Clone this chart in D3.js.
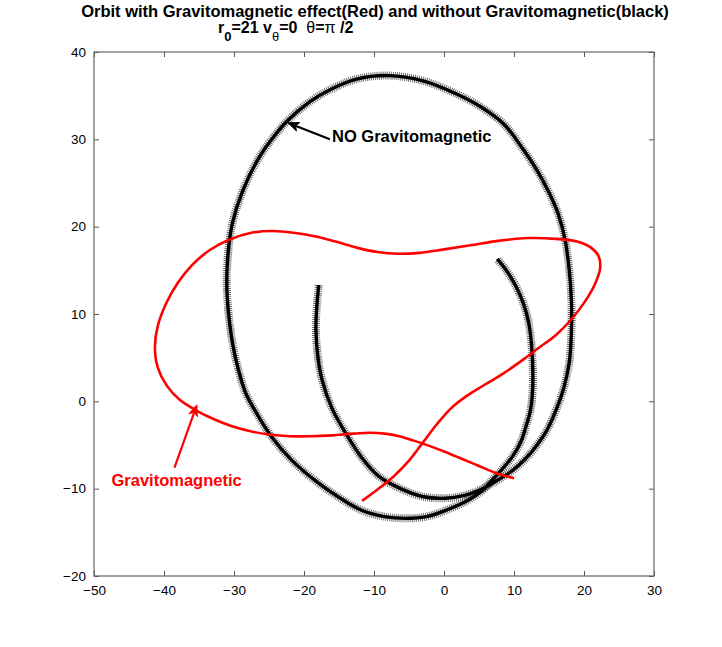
<!DOCTYPE html>
<html>
<head>
<meta charset="utf-8">
<script src="https://cdn.jsdelivr.net/npm/d3@7"></script>
<style>
  html, body { margin: 0; padding: 0; background: #fff; }
  svg { display: block; font-family: "Liberation Sans", Arial, Helvetica, sans-serif; }
</style>
</head>
<body>
<svg id="chart" width="722" height="647"></svg>
<script>
// ---- data ----
const titleLine1 = "Orbit with Gravitomagnetic effect(Red) and without Gravitomagnetic(black)";
const xTicks = [-50, -40, -30, -20, -10, 0, 10, 20, 30];
const yTicks = [-20, -10, 0, 10, 20, 30, 40];

// orbit without gravitomagnetic effect (black, '+' markers)
const blackX = [-17.9,-18.2,-18.3,-18.0,-17.4,-16.0,-14.0,-11.8,-9.3,-6.2,-3.1,0.2,2.8,5.0,7.5,9.8,11.6,13.1,14.7,16.0,17.1,17.9,18.2,18.2,17.9,17.3,16.3,15.0,13.4,11.0,8.6,5.3,1.8,-3.0,-7.9,-12.5,-16.0,-19.2,-22.4,-24.8,-26.8,-28.8,-30.2,-30.7,-31.0,-31.0,-30.7,-30.2,-29.4,-28.3,-26.6,-24.5,-21.8,-18.2,-14.8,-11.7,-8.5,-5.5,-2.5,0.2,3.5,5.5,6.9,8.5,9.8,11.0,11.7,12.3,12.6,12.7,12.5,12.1,11.3,10.2,8.9,7.6];
const blackY = [13.3,10.5,8.2,5.0,2.4,-0.8,-3.7,-6.4,-8.6,-10.0,-10.9,-11.1,-10.8,-10.2,-9.1,-7.9,-6.6,-5.2,-3.3,-1.0,1.5,4.5,8.0,11.5,15.0,18.5,21.5,23.9,26.3,29.2,31.7,33.7,35.2,36.7,37.3,36.9,35.8,34.3,32.1,29.8,27.4,24.0,20.5,18.1,15.0,12.4,9.5,6.6,3.7,0.9,-1.6,-4.2,-6.7,-9.2,-11.1,-12.5,-13.2,-13.4,-13.2,-12.5,-11.3,-10.2,-9.0,-7.6,-6.3,-4.6,-2.9,-1.2,0.5,3.0,6.5,9.0,11.3,13.3,15.0,16.3];

// orbit with gravitomagnetic effect (red)
const redX = [-11.7,-9.5,-7.2,-5.0,-3.0,-1.0,1.0,3.2,5.8,8.5,11.0,13.5,16.0,18.2,20.2,21.6,22.3,22.1,21.0,19.0,16.0,12.0,8.0,4.0,0.0,-3.5,-6.5,-9.5,-12.5,-15.5,-18.5,-21.5,-24.5,-27.5,-30.7,-33.5,-36.0,-38.0,-39.7,-40.9,-41.3,-40.9,-39.6,-37.8,-35.5,-33.0,-30.5,-27.8,-25.0,-22.0,-19.0,-16.0,-13.0,-10.5,-8.5,-6.4,-4.3,-2.1,0.2,2.6,5.0,7.4,10.0];
const redY = [-11.4,-10.1,-8.6,-6.8,-4.7,-2.6,-0.8,0.6,1.9,3.2,4.6,6.1,7.6,9.4,11.5,13.5,15.2,16.6,17.6,18.3,18.6,18.7,18.4,17.9,17.4,17.0,16.9,17.1,17.6,18.3,18.9,19.3,19.5,19.3,18.5,17.3,15.6,13.6,11.2,8.6,6.2,3.9,1.8,0.2,-1.0,-2.0,-2.8,-3.4,-3.8,-4.0,-4.0,-3.9,-3.7,-3.6,-3.7,-4.0,-4.5,-5.1,-5.8,-6.6,-7.4,-8.2,-8.8];

// annotations: [label, textX, textY, tailX, tailY, tipX, tipY] in data units
const annBlack = ["NO Gravitomagnetic", -16.0, 30.3, -16.3, 30.0, -22.3, 31.9];
const annRed = ["Gravitomagnetic", -47.5, -9.0, -38.5, -7.6, -35.3, -0.4];

// ---- drawing ----
const svg = d3.select("#chart");
svg.append("rect").attr("width", 722).attr("height", 647).attr("fill", "#fff");

const L = 94, R = 654, T = 52, B = 576;
const x = d3.scaleLinear().domain([-50, 30]).range([L, R]);
const y = d3.scaleLinear().domain([-20, 40]).range([B, T]);

// axes box with inward ticks on all sides
const tickLen = 5;
const axisColor = "#555";
function styleAxis(g) {
  g.select(".domain").remove();
  g.selectAll(".tick line").attr("stroke", axisColor).attr("stroke-width", 1);
  g.selectAll(".tick text").attr("fill", "#000").attr("font-size", "13.5px")
    .attr("font-family", "\"Liberation Sans\", Arial, sans-serif");
}
const fmt = d => d < 0 ? "\u2212" + Math.abs(d) : d;
const gxB = svg.append("g").attr("transform", `translate(0,${B})`)
  .call(d3.axisBottom(x).tickValues(xTicks).tickSizeInner(-tickLen).tickSizeOuter(0).tickPadding(9).tickFormat(fmt));
styleAxis(gxB);
const gxT = svg.append("g").attr("transform", `translate(0,${T})`)
  .call(d3.axisTop(x).tickValues(xTicks).tickSizeInner(-tickLen).tickSizeOuter(0).tickFormat(""));
styleAxis(gxT);
const gyL = svg.append("g").attr("transform", `translate(${L},0)`)
  .call(d3.axisLeft(y).tickValues(yTicks).tickSizeInner(-tickLen).tickSizeOuter(0).tickPadding(8).tickFormat(fmt));
styleAxis(gyL);
const gyR = svg.append("g").attr("transform", `translate(${R},0)`)
  .call(d3.axisRight(y).tickValues(yTicks).tickSizeInner(-tickLen).tickSizeOuter(0).tickFormat(""));
styleAxis(gyR);

svg.append("rect").attr("x", L).attr("y", T).attr("width", R - L).attr("height", B - T)
  .attr("fill", "none").attr("stroke", "#666").attr("stroke-width", 1.2);

const clip = svg.append("clipPath").attr("id", "plotclip");
clip.append("rect").attr("x", L).attr("y", T).attr("width", R - L).attr("height", B - T);
const plot = svg.append("g").attr("clip-path", "url(#plotclip)");

const line = d3.line().x(d => x(d[0])).y(d => y(d[1])).curve(d3.curveCatmullRom.alpha(0.5));
const blackPts = blackX.map((v, i) => [v, blackY[i]]);
const redPts = redX.map((v, i) => [v, redY[i]]);

// black orbit: dense '+' markers rendered as a comb stroke, plus the line
plot.append("path").datum(blackPts).attr("d", line).attr("fill", "none")
  .attr("stroke", "#000").attr("stroke-opacity", 0.62).attr("stroke-width", 8)
  .attr("stroke-dasharray", "0.9 1.1");
plot.append("path").datum(blackPts).attr("d", line).attr("fill", "none")
  .attr("stroke", "#000").attr("stroke-width", 3.4);

// red orbit
plot.append("path").datum(redPts).attr("d", line).attr("fill", "none")
  .attr("stroke", "#ff0000").attr("stroke-width", 2.6).attr("stroke-linejoin", "round");

// annotations
function arrow(a, color) {
  const x0 = x(a[3]), y0 = y(a[4]), x1 = x(a[5]), y1 = y(a[6]);
  const ang = Math.atan2(y1 - y0, x1 - x0);
  const hl = 11, hw = 4.5, back = 8;
  const bx = x1 - hl * Math.cos(ang), by = y1 - hl * Math.sin(ang);
  const nx = -Math.sin(ang), ny = Math.cos(ang);
  const ix = x1 - back * Math.cos(ang), iy = y1 - back * Math.sin(ang);
  svg.append("line").attr("x1", x0).attr("y1", y0).attr("x2", ix).attr("y2", iy)
    .attr("stroke", color).attr("stroke-width", 2.2);
  svg.append("path")
    .attr("d", `M${x1},${y1}L${bx + nx * hw},${by + ny * hw}L${ix},${iy}L${bx - nx * hw},${by - ny * hw}Z`)
    .attr("fill", color).attr("stroke", color).attr("stroke-width", 1);
  svg.append("text").attr("x", x(a[1])).attr("y", y(a[2])).attr("dy", "0.35em")
    .attr("font-size", "16.5px").attr("font-weight", "bold").attr("fill", color).text(a[0]);
}
arrow(annBlack, "#000");
arrow(annRed, "#ff0000");

// titles
svg.append("text").attr("x", 375).attr("y", 17).attr("text-anchor", "middle")
  .attr("font-size", "16.5px").attr("font-weight", "bold").text(titleLine1);
const t2 = svg.append("text").attr("x", 218).attr("y", 33)
  .attr("font-size", "16px").attr("font-weight", "bold");
t2.append("tspan").text("r");
t2.append("tspan").attr("dy", 8).attr("font-size", "13px").text("0");
t2.append("tspan").attr("dy", -8).text("=21 v");
t2.append("tspan").attr("dy", 8).attr("font-size", "13px").attr("font-weight", "normal").text("\u03b8");
t2.append("tspan").attr("dy", -8).text("=0 \u00a0");
t2.append("tspan").attr("font-weight", "normal").text("\u03b8");
t2.append("tspan").text("=");
t2.append("tspan").attr("font-weight", "normal").text("\u03c0");
t2.append("tspan").text(" /2");
</script>
</body>
</html>
